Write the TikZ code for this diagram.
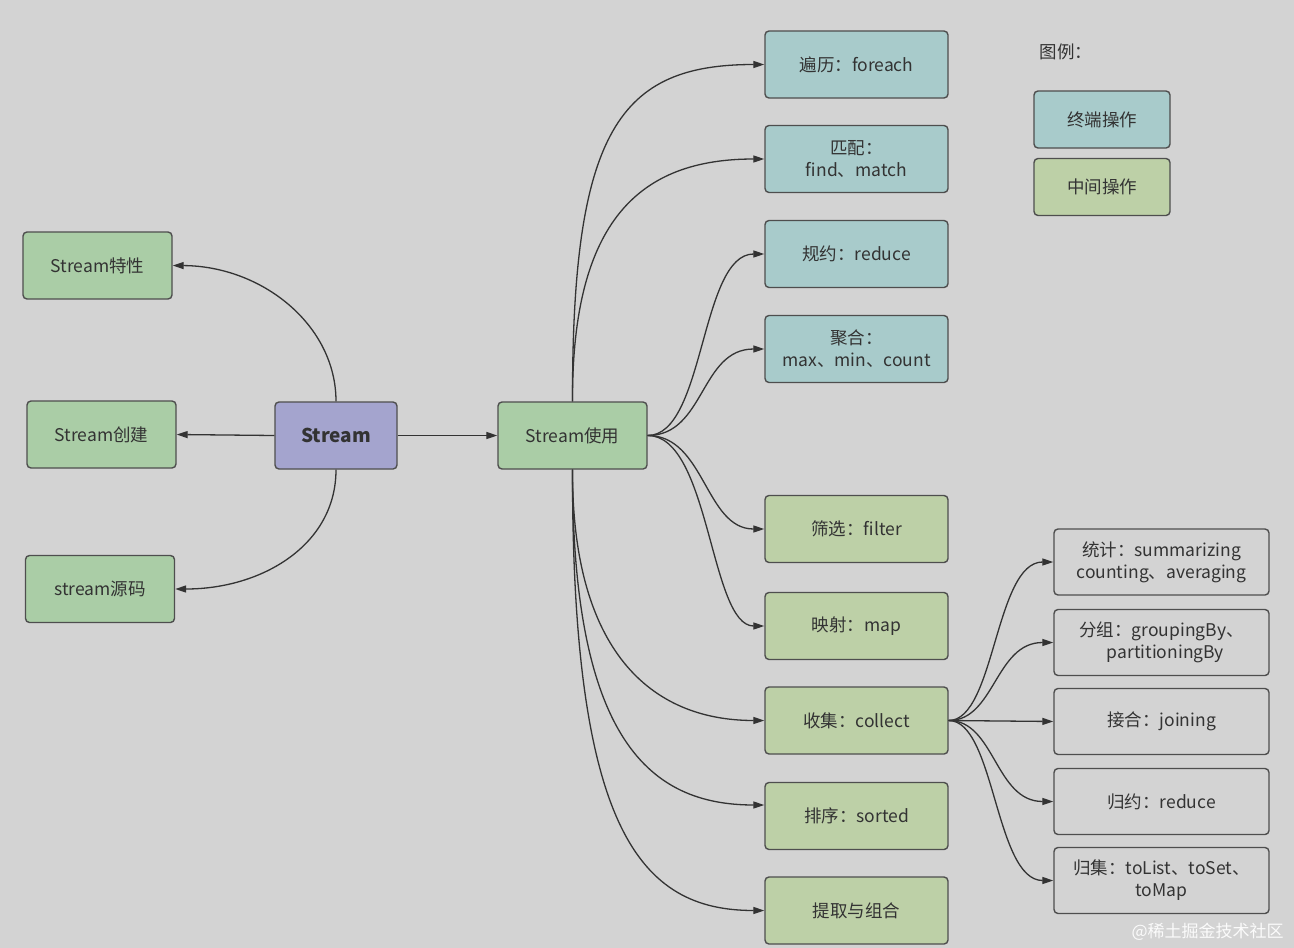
\documentclass[tikz,border=0pt]{standalone}
\usepackage{fontspec}
\setmainfont{Noto Sans CJK SC}
\usetikzlibrary{arrows.meta}
\definecolor{bg}{HTML}{D3D3D3}
\definecolor{bord}{HTML}{4E4E4E}
\definecolor{txt}{HTML}{333333}
\definecolor{basegreen}{HTML}{AACDA6}
\definecolor{midgreen}{HTML}{BDD0A7}
\definecolor{termblue}{HTML}{A8CBCB}
\definecolor{purp}{HTML}{A4A4CE}
\definecolor{edge}{HTML}{333333}
\tikzset{
  box/.style={draw=bord, line width=1.4pt, rounded corners=4pt, align=center,
    text=txt, inner sep=0pt, font=\fontsize{17.5}{22}\selectfont},
  leftbox/.style={box, fill=basegreen, minimum width=149pt, minimum height=67pt},
  midbox/.style={box, fill=midgreen, minimum width=183pt, minimum height=67pt},
  termbox/.style={box, fill=termblue, minimum width=183pt, minimum height=67pt},
  subbox/.style={box, fill=bg, minimum width=215pt, minimum height=66pt},
  legbox/.style={box, minimum width=136pt, minimum height=57pt, font=\fontsize{17.5}{20}\selectfont},
  conn/.style={draw=edge, line width=1.3pt, -{Triangle[length=11pt,width=7pt]}}
}
\begin{document}
\begin{tikzpicture}[x=1pt,y=-1pt]
\fill[bg] (0,0) rectangle (1294,948);
\useasboundingbox (0,0) rectangle (1294,948);

% left
\node[leftbox] (feat) at (97.5,265.5) {Stream特性};
\node[leftbox] (create) at (101.5,434.5) {Stream创建};
\node[leftbox] (src) at (100,589) {stream源码};
\node[box, fill=purp, minimum width=122pt, minimum height=67pt, font=\fontsize{19}{22}\selectfont\bfseries] (stream) at (336,435.5) {Stream};
\node[leftbox] (use) at (572.5,435.5) {Stream使用};

% terminal ops
\node[termbox] (foreach) at (856.5,64.5) {遍历：foreach};
\node[termbox] (match) at (856.5,159) {匹配：\\find、match};
\node[termbox] (reduce) at (856.5,254) {规约：reduce};
\node[termbox] (agg) at (856.5,349) {聚合：\\max、min、count};

% intermediate ops
\node[midbox] (filter) at (856.5,529) {筛选：filter};
\node[midbox] (map) at (856.5,626) {映射：map};
\node[midbox] (collect) at (856.5,720.5) {收集：collect};
\node[midbox] (sorted) at (856.5,816) {排序：sorted};
\node[midbox] (extract) at (856.5,910.5) {提取与组合};

% collect sub
\node[subbox] (stat) at (1161.5,562) {统计：summarizing\\counting、averaging};
\node[subbox] (group) at (1161.5,642.5) {分组：groupingBy、\\\ \ partitioningBy};
\node[subbox] (join) at (1161.5,721.5) {接合：joining};
\node[subbox] (red2) at (1161.5,801.5) {归约：reduce};
\node[subbox] (tocoll) at (1161.5,880.5) {归集：toList、toSet、\\toMap};

% legend
\node[anchor=west, text=txt, font=\fontsize{17.5}{20}\selectfont] (legtitle) at (1036,52) {图例：};
\node[legbox, fill=termblue] (legterm) at (1102,119.5) {终端操作};
\node[legbox, fill=midgreen] (legmid) at (1102,187) {中间操作};

% watermark
\node[anchor=west, text=white!92!bg, font=\fontsize{17}{20}\selectfont] (wm) at (1128,932) {@稀土掘金技术社区};

% edges from Stream
\draw[conn] (stream.north) .. controls (336,325) and (262,266) .. (feat.east);
\draw[conn] (stream.west) -- (create.east);
\draw[conn] (stream.south) .. controls (336,545) and (262,589) .. (src.east);
\draw[conn] (stream.east) -- (use.west);

% edges from Stream使用
\draw[conn] (use.north) .. controls (572,130) and (620,64.5) .. (foreach.west);
\draw[conn] (use.north) .. controls (572,220) and (640,159) .. (match.west);
\draw[conn] (use.east) .. controls (705,435.5) and (700,254) .. (reduce.west);
\draw[conn] (use.east) .. controls (705,435.5) and (700,349) .. (agg.west);
\draw[conn] (use.east) .. controls (705,435.5) and (705,529) .. (filter.west);
\draw[conn] (use.east) .. controls (710,435.5) and (710,626) .. (map.west);
\draw[conn] (use.south) .. controls (572,650) and (650,720.5) .. (collect.west);
\draw[conn] (use.south) .. controls (572,740) and (650,805) .. ([yshift=11pt]sorted.west);
\draw[conn] (use.south) .. controls (572,830) and (640,910.5) .. (extract.west);

% edges from collect
\draw[conn] (collect.east) .. controls (995,720.5) and (995,562) .. (stat.west);
\draw[conn] (collect.east) .. controls (995,720.5) and (995,642.5) .. (group.west);
\draw[conn] (collect.east) -- (join.west);
\draw[conn] (collect.east) .. controls (995,720.5) and (995,801.5) .. (red2.west);
\draw[conn] (collect.east) .. controls (995,720.5) and (995,880.5) .. (tocoll.west);
\end{tikzpicture}
\end{document}
